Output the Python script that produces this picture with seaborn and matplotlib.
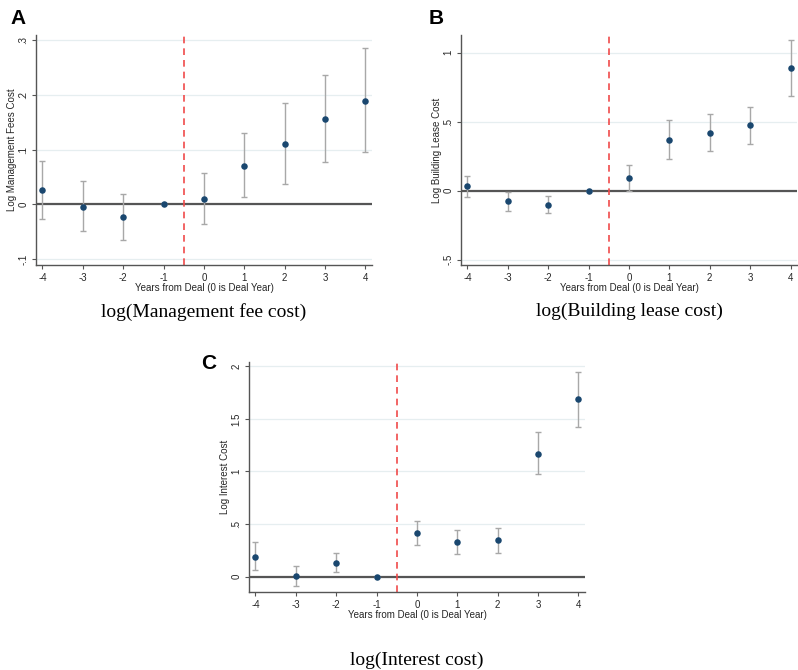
import matplotlib
matplotlib.use("Agg")
import matplotlib.pyplot as plt
import numpy as np
import pandas as pd
import seaborn as sns

# ─── Data ─────────────────────────────────────────────────────────────────────
years = [-4, -3, -2, -1, 0, 1, 2, 3, 4]

mgmt_coef = [0.026, -0.004, -0.024, 0.0, 0.010, 0.071, 0.110, 0.157, 0.190]
mgmt_lo   = [-0.027, -0.049, -0.065, 0.0, -0.036, 0.014, 0.037, 0.078, 0.095]
mgmt_hi   = [0.079, 0.043, 0.019, 0.0, 0.057, 0.130, 0.185, 0.237, 0.287]

lease_coef = [0.034, -0.072, -0.101, 0.0, 0.089, 0.370, 0.420, 0.476, 0.886]
lease_lo   = [-0.043, -0.145, -0.164, 0.0, 0.000, 0.229, 0.290, 0.341, 0.684]
lease_hi   = [0.109, -0.007, -0.039, 0.0, 0.186, 0.510, 0.553, 0.609, 1.089]

int_coef = [0.190, 0.006, 0.133, 0.0, 0.415, 0.329, 0.348, 1.168, 1.687]
int_lo   = [0.060, -0.092, 0.044, 0.0, 0.304, 0.218, 0.228, 0.975, 1.427]
int_hi   = [0.329, 0.104, 0.222, 0.0, 0.525, 0.440, 0.465, 1.377, 1.949]

mgmt_ticks  = [-0.1, 0, 0.1, 0.2, 0.3]
mgmt_labels = ["-.1", "0", ".1", ".2", ".3"]
lease_ticks  = [-0.5, 0, 0.5, 1]
lease_labels = ["-.5", "0", ".5", "1"]
int_ticks  = [0, 0.5, 1, 1.5, 2]
int_labels = ["0", ".5", "1", "1.5", "2"]

sns.set_theme(style="white")
plt.rcParams["font.family"] = ["Liberation Sans", "DejaVu Sans"]

NAVY = "#1a476f"
GRID = "#e6eef0"


def event_panel(ax, coef, lo, hi, ylim, yticks, ylabels, ylabel, title, title_y):
    df = pd.DataFrame({"year": years, "coef": coef, "lo": lo, "hi": hi})
    for t in yticks:
        ax.axhline(t, color=GRID, lw=0.9, zorder=0)
    ax.errorbar(df["year"], df["coef"],
                yerr=[df["coef"] - df["lo"], df["hi"] - df["coef"]],
                fmt="none", ecolor="#a8a8a8", elinewidth=1.0,
                capsize=2.5, capthick=1.0, zorder=2)
    ax.axhline(0, color="#555555", lw=1.6, zorder=1)
    ax.axvline(-0.5, color="#f04a4a", lw=1.2, ls=(0, (4, 3)), zorder=1)
    sns.scatterplot(data=df, x="year", y="coef", ax=ax, color=NAVY,
                    s=22, edgecolor=NAVY, linewidth=0, zorder=3, legend=False)

    ax.set_xlim(-4.16, 4.16)
    ax.set_ylim(*ylim)
    ax.set_xticks(years)
    ax.set_xticklabels([str(y) for y in years], fontsize=7)
    ax.set_yticks(yticks)
    ax.set_yticklabels(ylabels, fontsize=7, rotation=90, va="center")
    ax.tick_params(axis="both", direction="out", length=3, width=0.8,
                   color="#555555", pad=2.5, left=True, bottom=True)
    ax.set_xlabel("Years from Deal (0 is Deal Year)", fontsize=7, labelpad=0)
    ax.set_ylabel(ylabel, fontsize=7, labelpad=1)
    for side in ("top", "right"):
        ax.spines[side].set_visible(False)
    for side in ("left", "bottom"):
        ax.spines[side].set_color("#555555")
        ax.spines[side].set_linewidth(1.0)

    ax.text(0.5, title_y, title, transform=ax.transAxes, fontsize=14,
            family="Liberation Serif", color="black", ha="center", va="top")


fig = plt.figure(figsize=(7.98, 6.70), dpi=100)
ax_a = fig.add_axes([0.0451, 0.6045, 0.421, 0.3433])
ax_b = fig.add_axes([0.5777, 0.6045, 0.421, 0.3433])
ax_c = fig.add_axes([0.3120, 0.1164, 0.421, 0.3433])

event_panel(ax_a, mgmt_coef, mgmt_lo, mgmt_hi, (-0.111, 0.31),
            mgmt_ticks, mgmt_labels, "Log Management Fees Cost",
            "log(Management fee cost)", -0.165)
event_panel(ax_b, lease_coef, lease_lo, lease_hi, (-0.539, 1.128),
            lease_ticks, lease_labels, "Log Building Lease Cost",
            "log(Building lease cost)", -0.165)
event_panel(ax_c, int_coef, int_lo, int_hi, (-0.146, 2.04),
            int_ticks, int_labels, "Log Interest Cost",
            "log(Interest cost)", -0.26)

# panel letters
for letter, (px, py) in {"A": (18, 19), "B": (436, 18), "C": (209, 364)}.items():
    fig.text(px / 798, 1 - py / 670, letter, fontsize=15, fontweight="bold",
             color="black", ha="center", va="center")

fig.savefig("out.png", dpi=100)
